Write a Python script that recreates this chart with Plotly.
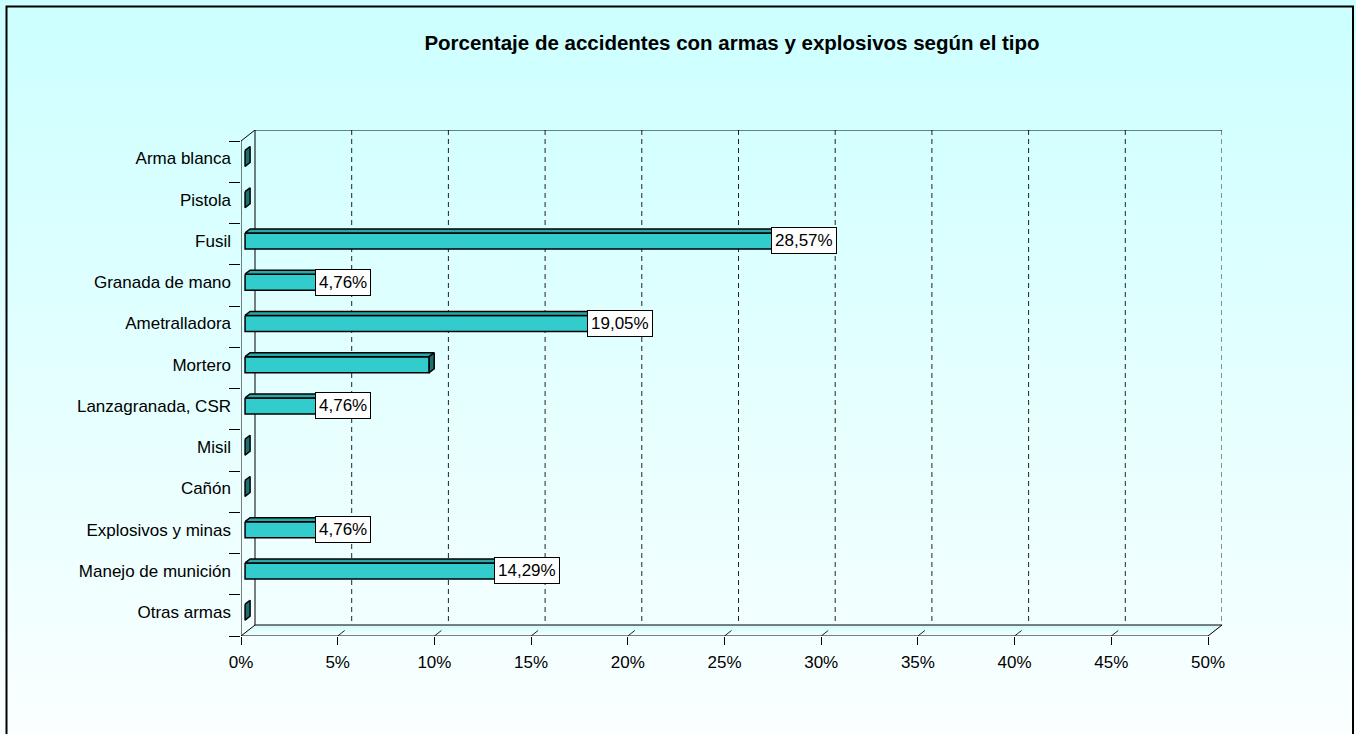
import plotly.graph_objects as go

# Datos del gráfico
categorias = ['Arma blanca', 'Pistola', 'Fusil', 'Granada de mano', 'Ametralladora', 'Mortero',
              'Lanzagranada, CSR', 'Misil', 'Cañón', 'Explosivos y minas', 'Manejo de munición',
              'Otras armas']
valores = [0, 0, 28.57, 4.76, 19.05, 9.52, 4.76, 0, 0, 4.76, 14.29, 0]
etiquetas = ['', '', '28,57%', '4,76%', '19,05%', '', '4,76%', '', '', '4,76%', '14,29%', '']
ticks_x = [0, 5, 10, 15, 20, 25, 30, 35, 40, 45, 50]
ticks_x_texto = ['0%', '5%', '10%', '15%', '20%', '25%', '30%', '35%', '40%', '45%', '50%']

W, H = 1356, 734
FUENTE = 'Liberation Sans, Arial, sans-serif'

# Geometría en pixeles del área 3D (estilo Excel)
x_front0, x_back_end = 241, 1222
px_pct = 967 / 50
y_top_back, y_floor_front = 130, 636
n = len(categorias)
px_cat = (y_floor_front - 141) / n

DX = 14 / px_pct          # profundidad en unidades de %
DY = 11 / px_cat          # profundidad en unidades de categoría
t0, t1 = 0.29, 0.65       # profundidad de la barra
h = 8 / px_cat            # media altura de la cara frontal

x_max = (x_back_end - x_front0) / px_pct
a0, a1 = t0 * DX, t1 * DX
b0, b1 = t0 * DY, t1 * DY

fig = go.Figure()

# Fondo con degradado
fig.add_trace(go.Scatter(
    x=[0, W, W, 0, 0], y=[0, 0, H, H, 0], mode='lines', fill='toself',
    line=dict(width=0), fillgradient=dict(type='vertical', colorscale=[[0, '#FAFFFF'], [1, '#CCFFFF']]),
    hoverinfo='skip', showlegend=False, xaxis='x', yaxis='y'))


def linea(xs, ys, color='black', dash='solid', width=1):
    fig.add_trace(go.Scatter(x=xs, y=ys, mode='lines', line=dict(color=color, width=width, dash=dash),
                             hoverinfo='skip', showlegend=False, xaxis='x2', yaxis='y2'))


# Piso
fig.add_trace(go.Scatter(
    x=[0, 50, 50 + DX, DX, 0], y=[n, n, n - DY, n - DY, n], mode='lines', fill='toself',
    line=dict(color='black', width=1),
    fillgradient=dict(type='vertical', colorscale=[[0, '#F4FFFF'], [1, '#D2FAFA']]),
    hoverinfo='skip', showlegend=False, xaxis='x2', yaxis='y2'))

# Rejilla en la pared del fondo
for t in ticks_x[1:]:
    linea([t + DX, t + DX], [-DY, n - DY], color='#222222', dash='5px,4px')
    if t < 50:
        linea([t, t + DX * 0.5], [n, n - DY * 0.5], color='#222222')

# Bordes de las paredes
linea([DX, x_max], [-DY, -DY])
linea([DX, DX], [-DY, n - DY])
linea([0, 0], [0, n])
linea([0, DX], [0, -DY])

# Barras 3D
fx, fy, tx, ty, sx, sy = [], [], [], [], [], []
for k, v in enumerate(valores):
    c = k + 0.5
    top0, bot0 = c - h - b0, c + h - b0
    top1, bot1 = c - h - b1, c + h - b1
    if v > 0:
        fx += [a0, v + a0, v + a0, a0, a0, None]
        fy += [top0, top0, bot0, bot0, top0, None]
        tx += [a0, v + a0, v + a1, a1, a0, None]
        ty += [top0, top0, top1, top1, top0, None]
    sx += [v + a0, v + a1, v + a1, v + a0, v + a0, None]
    sy += [top0, top1, bot1, bot0, top0, None]

for xs, ys, col in [(fx, fy, '#33CCCC'), (tx, ty, '#2AA8A8'), (sx, sy, '#1E7070')]:
    fig.add_trace(go.Scatter(x=xs, y=ys, mode='lines', fill='toself', fillcolor=col,
                             line=dict(color='black', width=1.5), hoverinfo='skip',
                             showlegend=False, xaxis='x2', yaxis='y2'))

# Etiquetas de datos
desplazamiento = (a0 + a1) / 2 + 3.5 / px_pct
for k, (v, txt) in enumerate(zip(valores, etiquetas)):
    if txt:
        fig.add_annotation(x=v + desplazamiento, y=k + 0.5 - b0, xref='x2', yref='y2', text=txt,
                           showarrow=False, bgcolor='white', bordercolor='black', borderwidth=1,
                           borderpad=3, font=dict(family=FUENTE, size=17, color='black'))

fig.update_layout(
    width=W, height=H,
    margin=dict(l=0, r=0, t=0, b=0),
    paper_bgcolor='white', plot_bgcolor='rgba(0,0,0,0)',
    font=dict(family=FUENTE, size=17, color='black'),
    title=dict(text='<b>Porcentaje de accidentes con armas y explosivos según el tipo</b>',
               x=732 / W, xanchor='center', y=1 - 43 / H, yanchor='middle', automargin=False,
               font=dict(family=FUENTE, size=20.5, color='black')),
    xaxis=dict(domain=[0, 1], range=[0, W], visible=False, fixedrange=True, automargin=False),
    yaxis=dict(domain=[0, 1], range=[H, 0], visible=False, fixedrange=True, automargin=False),
    xaxis2=dict(domain=[x_front0 / W, x_back_end / W], range=[0, x_max], anchor='y2',
                tickvals=ticks_x, ticktext=ticks_x_texto, ticks='outside', ticklen=8,
                tickcolor='black', showgrid=False, zeroline=False, showline=False,
                ticklabelstandoff=3, tickfont=dict(size=17), automargin=False, fixedrange=True),
    yaxis2=dict(domain=[1 - y_floor_front / H, 1 - y_top_back / H], range=[n, -DY], anchor='x2',
                tickvals=[k + 0.5 - b0 for k in range(n)], ticktext=categorias, ticks='',
                ticklabelstandoff=9, showgrid=False, zeroline=False, showline=False,
                tickfont=dict(size=17), automargin=False, fixedrange=True,
                minor=dict(tickvals=list(range(n + 1)), ticks='outside', ticklen=11,
                           tickcolor='black', showgrid=False)),
    shapes=[dict(type='rect', xref='x', yref='y', x0=6.5, y0=6.5, x1=1353, y1=H + 10,
                 line=dict(color='black', width=2))],
)

fig.write_html('out.html', config={'displayModeBar': False},
               post_script="document.body.style.margin='0';document.body.style.overflow='hidden';")
